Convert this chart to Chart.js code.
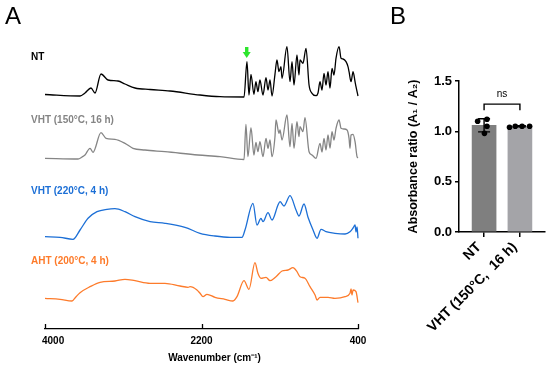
<!DOCTYPE html>
<html>
<head>
<meta charset="utf-8">
<script src="https://cdn.jsdelivr.net/npm/chart.js@4"></script>
<style>
  html, body { margin: 0; padding: 0; background: #fff; }
  #wrap { position: relative; width: 550px; height: 370px; overflow: hidden; font-family: Arial, "Liberation Sans", sans-serif; }
  #specCanvas { position: absolute; left: 0; top: 0; }
  #ratioCanvas { position: absolute; left: 385px; top: 0; }
  .panel { position: absolute; font-size: 24px; line-height: 1; color: #000; }
</style>
</head>
<body>
<div id="wrap">
  <canvas id="specCanvas" width="385" height="370"></canvas>
  <canvas id="ratioCanvas" width="165" height="370"></canvas>
  <div class="panel" style="left:5px;top:4px">A</div>
  <div class="panel" style="left:390px;top:4px">B</div>
</div>
<script>
// ---- panel A: offset FTIR spectra (arbitrary units, stacked) ----
const waveTicks = [4000, 2200, 400];
const traceNames = ['NT', 'VHT (150°C, 16 h)', 'VHT (220°C, 4 h)', 'AHT (200°C, 4 h)'];
const traceColors = ['#000000', '#858585', '#1c6fd6', '#fd7b2b'];

const ntWave = [4000, 3597, 3540, 3471, 3425, 3356, 3275, 3160, 3080, 2965, 2792, 2562, 2217, 1987, 1711, 1677, 1654, 1631, 1597, 1574, 1551, 1528, 1493, 1458, 1435, 1412, 1389, 1355, 1332, 1309, 1286, 1274, 1217, 1182, 1159, 1136, 1102, 1079, 1067, 1033, 998, 963, 929, 883, 860, 837, 814, 791, 768, 745, 722, 699, 676, 653, 618, 595, 572, 538, 515, 503, 480, 457, 434, 423, 400];
const ntAbs = [234.5, 233, 236, 241, 236, 255, 249, 248, 245, 241, 239.5, 238, 234, 232.3, 232, 267.3, 234, 254.7, 234.7, 247.3, 237.3, 249, 234, 251.3, 239, 249, 233, 254.7, 269, 257.3, 262.3, 250.7, 282.3, 247.3, 267.3, 244, 274, 254, 269, 265.7, 280.7, 244, 235.7, 233.3, 236, 247.3, 239, 255.7, 244, 257.3, 241, 260.7, 254, 270.7, 282.3, 270.7, 270, 267.3, 262.3, 257.3, 247.3, 257.3, 247.3, 242.3, 233];

const vht150Wave = [4000, 3620, 3574, 3540, 3482, 3448, 3356, 3298, 3195, 3080, 2988, 2850, 2620, 2240, 1987, 1711, 1689, 1666, 1631, 1597, 1574, 1551, 1528, 1493, 1458, 1435, 1412, 1389, 1355, 1343, 1309, 1297, 1274, 1217, 1182, 1159, 1136, 1102, 1079, 1067, 1033, 1010, 963, 929, 883, 837, 814, 791, 768, 745, 722, 699, 676, 653, 618, 595, 561, 526, 503, 492, 480, 457, 434, 411, 400];
const vht150Abs = [170.7, 170, 172, 174, 180.7, 176.7, 196.3, 190.7, 189.7, 185.7, 180.7, 179, 177.3, 174, 172.3, 169.5, 204.7, 172.3, 201.3, 174, 186.7, 177.3, 187.3, 172.3, 190.7, 180.7, 189, 172.3, 192.3, 209, 195.7, 199, 189, 214, 182.3, 205.7, 180.7, 207.3, 192.3, 202.3, 197.3, 211.3, 177.3, 174, 170.7, 185.7, 177, 190.7, 179, 194, 181, 197.3, 189, 200.7, 209, 200.7, 200, 199, 190.7, 180.7, 194, 194.7, 187.3, 172.3, 171];

const vht220Wave = [4000, 3827, 3678, 3597, 3505, 3402, 3287, 3195, 3080, 2965, 2792, 2620, 2390, 2217, 2045, 1872, 1734, 1700, 1608, 1562, 1516, 1493, 1435, 1389, 1320, 1297, 1251, 1182, 1113, 1079, 1021, 975, 917, 871, 825, 768, 665, 549, 492, 457, 434, 423, 411, 400];
const vht220Abs = [92.3, 91.7, 89.7, 99, 110.7, 117.3, 119.7, 120.3, 117.3, 112.3, 107.3, 105.7, 101.7, 95.7, 93, 91.7, 91.7, 99, 125.7, 104, 110.7, 107.3, 116.3, 109, 124, 127.3, 123, 133.3, 119, 113, 125, 111.7, 99, 90.7, 99.7, 97.3, 95.7, 95, 97.3, 101, 104, 97, 102, 90.7];

const ahtWave = [4000, 3827, 3689, 3643, 3597, 3482, 3367, 3195, 3080, 2965, 2792, 2620, 2447, 2355, 2332, 2252, 2217, 2183, 2137, 2045, 1930, 1838, 1792, 1711, 1654, 1585, 1551, 1516, 1458, 1412, 1343, 1274, 1205, 1148, 1102, 1067, 1010, 952, 894, 871, 837, 745, 665, 549, 492, 480, 469, 457, 423, 400];
const ahtAbs = [30.7, 29.7, 28, 32.3, 36.3, 42.3, 46.7, 48, 49.7, 48.3, 45.7, 45.7, 43, 41.7, 42.3, 39, 35.7, 32.3, 34.7, 31.7, 29.7, 28, 32.3, 48.3, 39.7, 66.3, 55.7, 50.7, 51.7, 48.3, 52.3, 58, 59, 61.3, 57.3, 52.3, 50.7, 42.3, 34, 29, 31.7, 31.7, 30.7, 32.3, 35.7, 40, 34, 39, 37.3, 26.3];

const arrowWave = 1680;

// ---- panel B: absorbance ratio ----
const groupNames = ['NT', 'VHT (150°C,  16 h)'];
const barMeans = [1.06, 1.05];
const barSd = [0.065, 0.006];
const ntRatios = [1.10, 1.12, 1.05, 0.98];
const vhtRatios = [1.04, 1.05, 1.05, 1.05];
const ntJitter = [-0.18, 0.08, 0.08, 0.01];
const vhtJitter = [-0.29, -0.13, 0.06, 0.27];
const ratioTicks = [0, 0.5, 1.0, 1.5];
const sigLabel = 'ns';

const FONT = 'Arial, "Liberation Sans", sans-serif';

function pairs(xs, ys) {
  return xs.map((x, i) => ({ x: x, y: ys[i] }));
}

const specSets = [
  pairs(ntWave, ntAbs),
  pairs(vht150Wave, vht150Abs),
  pairs(vht220Wave, vht220Abs),
  pairs(ahtWave, ahtAbs)
];

const labelRows = [57, 120, 191, 261];

const specDecor = {
  id: 'specDecor',
  afterDraw(chart) {
    const { ctx, chartArea, scales: { x } } = chart;
    ctx.save();
    // ticks point inward
    ctx.strokeStyle = '#000';
    ctx.lineWidth = 1.3;
    waveTicks.forEach((v) => {
      const px = Math.round(x.getPixelForValue(v)) + 0.5;
      ctx.beginPath();
      ctx.moveTo(px, chartArea.bottom);
      ctx.lineTo(px, chartArea.bottom - 5);
      ctx.stroke();
    });
    ctx.fillStyle = '#000';
    ctx.font = 'bold 10px ' + FONT;
    ctx.textBaseline = 'middle';
    waveTicks.forEach((v, i) => {
      const px = x.getPixelForValue(v);
      ctx.textAlign = i === 0 ? 'left' : 'center';
      ctx.fillText(String(v), i === 0 ? px - 3 : px, chartArea.bottom + 12);
    });
    ctx.textAlign = 'center';
    ctx.fillText('Wavenumber (cm⁻¹)', (chartArea.left + chartArea.right) / 2 + 13, chartArea.bottom + 29);

    // trace labels
    ctx.textAlign = 'left';
    traceNames.forEach((name, i) => {
      ctx.fillStyle = traceColors[i];
      ctx.fillText(name, 31, labelRows[i]);
    });

    // green marker arrow
    const ax = x.getPixelForValue(arrowWave);
    ctx.fillStyle = '#2de52d';
    ctx.fillRect(ax - 1.7, 47, 3.4, 5.5);
    ctx.beginPath();
    ctx.moveTo(ax - 4, 52);
    ctx.lineTo(ax + 4, 52);
    ctx.lineTo(ax, 58);
    ctx.closePath();
    ctx.fill();
    ctx.restore();
  }
};

new Chart(document.getElementById('specCanvas'), {
  type: 'line',
  data: {
    datasets: specSets.map((d, i) => ({
      label: traceNames[i],
      data: d,
      borderColor: traceColors[i],
      borderWidth: 1.3,
      pointRadius: 0,
      fill: false,
      cubicInterpolationMode: 'monotone',
      clip: false
    }))
  },
  options: {
    responsive: false,
    animation: false,
    layout: { padding: { left: 45, right: 27, top: 39, bottom: 0 } },
    plugins: { legend: { display: false }, tooltip: { enabled: false } },
    scales: {
      x: {
        type: 'linear',
        min: 400,
        max: 4000,
        reverse: true,
        ticks: { display: false },
        grid: { display: false },
        border: { display: true, color: '#000', width: 1.3 },
        afterFit: (s) => { s.height = 41; }
      },
      y: { display: false, min: 0, max: 290 }
    }
  },
  plugins: [specDecor]
});

const ratioDecor = {
  id: 'ratioDecor',
  afterDatasetsDraw(chart) {
    const { ctx, scales: { x, y } } = chart;
    ctx.save();
    ctx.strokeStyle = '#000';
    ctx.lineWidth = 1.4;
    barMeans.forEach((m, i) => {
      const px = x.getPixelForValue(i);
      const top = y.getPixelForValue(m + barSd[i]);
      const bot = y.getPixelForValue(m - barSd[i]);
      ctx.beginPath();
      ctx.moveTo(px, top); ctx.lineTo(px, bot);
      ctx.moveTo(px - 6, top); ctx.lineTo(px + 6, top);
      ctx.moveTo(px - 6, bot); ctx.lineTo(px + 6, bot);
      ctx.stroke();
    });
    // significance bracket
    const x0 = x.getPixelForValue(0);
    const x1 = x.getPixelForValue(1);
    const yb = y.getPixelForValue(1.27);
    const yl = y.getPixelForValue(1.21);
    ctx.beginPath();
    ctx.moveTo(x0, yl); ctx.lineTo(x0, yb); ctx.lineTo(x1, yb); ctx.lineTo(x1, yl);
    ctx.stroke();
    ctx.fillStyle = '#000';
    ctx.font = '10px ' + FONT;
    ctx.textAlign = 'center';
    ctx.textBaseline = 'middle';
    ctx.fillText(sigLabel, (x0 + x1) / 2, y.getPixelForValue(1.37));
    ctx.restore();
  }
};

new Chart(document.getElementById('ratioCanvas'), {
  type: 'bar',
  data: {
    datasets: [
      {
        type: 'bar',
        data: groupNames.map((n, i) => ({ x: i, y: barMeans[i] })),
        backgroundColor: ['#7f7f7f', '#a4a4a8'],
        barThickness: 24,
        order: 2
      },
      {
        type: 'scatter',
        data: ntRatios.map((v, i) => ({ x: 0 + ntJitter[i], y: v })),
        pointRadius: 2.8,
        pointBackgroundColor: '#000',
        pointBorderWidth: 0,
        order: 1
      },
      {
        type: 'scatter',
        data: vhtRatios.map((v, i) => ({ x: 1 + vhtJitter[i], y: v })),
        pointRadius: 2.8,
        pointBackgroundColor: '#000',
        pointBorderWidth: 0,
        order: 1
      }
    ]
  },
  options: {
    responsive: false,
    animation: false,
    layout: { padding: { left: 0, right: 5, top: 81, bottom: 0 } },
    plugins: { legend: { display: false }, tooltip: { enabled: false } },
    scales: {
      x: {
        type: 'linear',
        min: -0.7,
        max: 1.7,
        offset: false,
        afterBuildTicks: (s) => { s.ticks = groupNames.map((n, i) => ({ value: i })); },
        ticks: {
          callback: (v) => groupNames[v],
          autoSkip: false,
          minRotation: 45,
          maxRotation: 45,
          labelOffset: -5,
          color: '#000',
          padding: 2,
          font: { family: FONT, size: 14, weight: 'bold' }
        },
        grid: { display: true, offset: false, drawOnChartArea: false, drawTicks: true, tickLength: 5, color: '#000', lineWidth: 1.5 },
        border: { display: true, color: '#000', width: 1.5 },
        afterFit: (s) => { s.height = 138; }
      },
      y: {
        min: 0,
        max: 1.5,
        afterBuildTicks: (s) => { s.ticks = ratioTicks.map((v) => ({ value: v })); },
        ticks: {
          callback: (v) => Number(v).toFixed(1),
          color: '#000',
          padding: 3,
          font: { family: FONT, size: 13, weight: 'bold' }
        },
        grid: { display: true, drawOnChartArea: false, drawTicks: true, tickLength: 4, color: '#000', lineWidth: 1.5 },
        border: { display: true, color: '#000', width: 1.5 },
        title: {
          display: true,
          text: 'Absorbance ratio (A₁ / A₂)',
          color: '#000',
          padding: { top: 21, bottom: 0 },
          font: { family: FONT, size: 12.5, weight: 'bold' }
        },
        afterFit: (s) => { s.width = 74; }
      }
    }
  },
  plugins: [ratioDecor]
});
</script>
</body>
</html>
